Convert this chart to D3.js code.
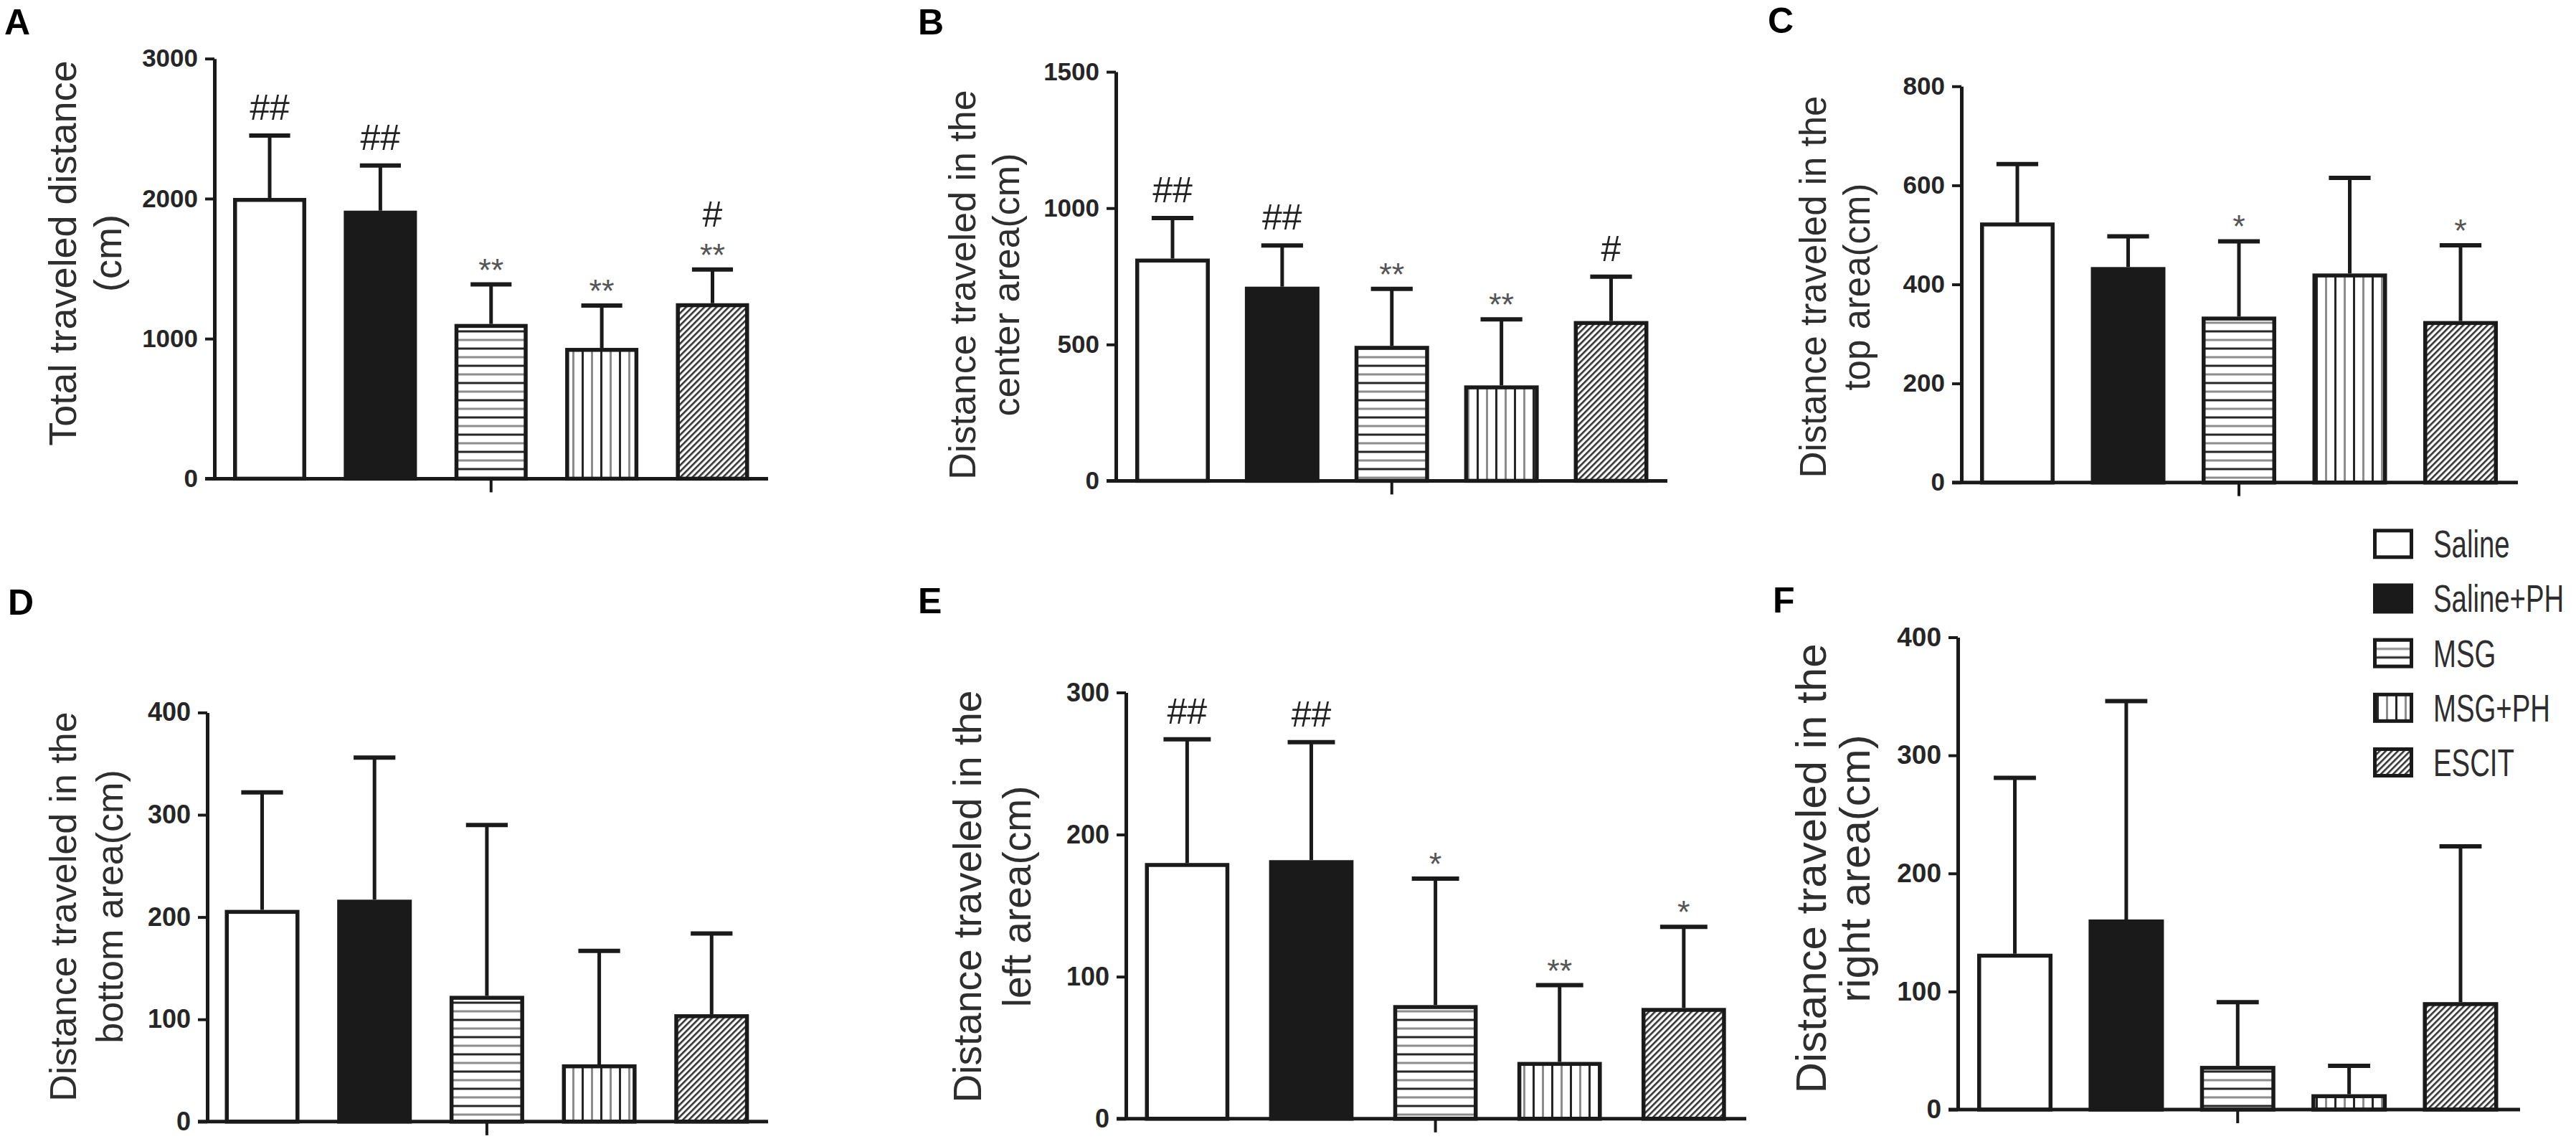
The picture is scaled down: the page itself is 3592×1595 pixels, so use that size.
<!DOCTYPE html>
<html>
<head>
<meta charset="utf-8">
<script src="https://cdn.jsdelivr.net/npm/d3@7"></script>
<style>
  body { margin: 0; background: #fff; }
  svg { display: block; }
  text { font-family: "Liberation Sans", Arial, Helvetica, sans-serif; }
</style>
</head>
<body>
<div id="chart"></div>
<script>
const groups = ['Saline', 'Saline+PH', 'MSG', 'MSG+PH', 'ESCIT'];

// A - total distance
const totalMean = [2005, 1914, 1105, 934, 1253];
const totalErr = [446, 322, 282, 302, 241];
const totalSig = [['##'], ['##'], ['**'], ['**'], ['**', '#']];
const totalTicks = [0, 1000, 2000, 3000];

// B - center area
const centerMean = [815, 712, 495, 350, 586];
const centerErr = [149, 151, 209, 242, 163];
const centerSig = [['##'], ['##'], ['**'], ['**'], ['#']];
const centerTicks = [0, 500, 1000, 1500];

// C - top area
const topMean = [525, 435, 335, 422, 326];
const topErr = [118, 62, 152, 193, 153];
const topSig = [[], [], ['*'], [], ['*']];
const topTicks = [0, 200, 400, 600, 800];

// D - bottom area
const bottomMean = [207, 217, 123, 56, 105];
const bottomErr = [115, 139, 167, 111, 79];
const bottomSig = [[], [], [], [], []];
const bottomTicks = [0, 100, 200, 300, 400];

// E - left area
const leftMean = [180, 182, 80, 40, 78];
const leftErr = [87, 83, 89, 54, 57];
const leftSig = [['##'], ['##'], ['*'], ['**'], ['*']];
const leftTicks = [0, 100, 200, 300];

// F - right area
const rightMean = [132, 161, 37, 13, 91];
const rightErr = [149, 185, 54, 24, 132];
const rightSig = [[], [], [], [], []];
const rightTicks = [0, 100, 200, 300, 400];

const W = 3592, H = 1595;
const INK = '#1a1a1a';

const svg = d3.select('#chart').append('svg')
    .attr('width', W)
    .attr('height', H);

// fill patterns
const defs = svg.append('defs');

const ph = defs.append('pattern').attr('id', 'pat-h')
    .attr('patternUnits', 'userSpaceOnUse').attr('width', 10).attr('height', 24);
ph.append('rect').attr('width', 10).attr('height', 24).attr('fill', '#fff');
ph.append('rect').attr('y', 4.5).attr('width', 10).attr('height', 3).attr('fill', '#262626');
ph.append('rect').attr('y', 16.5).attr('width', 10).attr('height', 3).attr('fill', '#8c8c8c');

const pv = defs.append('pattern').attr('id', 'pat-v')
    .attr('patternUnits', 'userSpaceOnUse').attr('width', 26).attr('height', 10);
pv.append('rect').attr('width', 26).attr('height', 10).attr('fill', '#fff');
pv.append('rect').attr('x', 5).attr('width', 3).attr('height', 10).attr('fill', '#262626');
pv.append('rect').attr('x', 18).attr('width', 3).attr('height', 10).attr('fill', '#8c8c8c');

const pd = defs.append('pattern').attr('id', 'pat-d')
    .attr('patternUnits', 'userSpaceOnUse').attr('width', 6).attr('height', 6)
    .attr('patternTransform', 'rotate(45)');
pd.append('rect').attr('width', 6).attr('height', 6).attr('fill', '#fff');
pd.append('rect').attr('width', 2.6).attr('height', 6).attr('fill', '#333');

const fills = ['#fff', INK, 'url(#pat-h)', 'url(#pat-v)', 'url(#pat-d)'];

const panels = [
    {letter: 'A', lx: 6, ly: 48, axisX: 299, x0: 325, x1: 1044.5, pad: 0.339, end: 1071,
     y0: 667.4, y1: 81.7, labX: [87, 150], labY: 353, labSize: 54, tickSize: 35,
     lines: ['Total traveled distance', '(cm)'],
     mean: totalMean, err: totalErr, sig: totalSig, ticks: totalTicks},
    {letter: 'B', lx: 1280, ly: 48, axisX: 1556, x0: 1583, x1: 2298.5, pad: 0.32, end: 2325,
     y0: 670.4, y1: 100.1, labX: [1342, 1403], labY: 397, labSize: 52, tickSize: 35,
     lines: ['Distance traveled in the', 'center area(cm)'],
     mean: centerMean, err: centerErr, sig: centerSig, ticks: centerTicks},
    {letter: 'C', lx: 2465, ly: 46, axisX: 2735, x0: 2761, x1: 3483, pad: 0.327, end: 3511,
     y0: 672.7, y1: 120.3, labX: [2528, 2589], labY: 400, labSize: 51, tickSize: 35,
     lines: ['Distance traveled in the', 'top area(cm)'],
     mean: topMean, err: topErr, sig: topSig, ticks: topTicks},
    {letter: 'D', lx: 11, ly: 857, axisX: 289, x0: 313.5, x1: 1044.3, pad: 0.336, end: 1071,
     y0: 1563.8, y1: 993.4, labX: [88, 153], labY: 1264, labSize: 52, tickSize: 36,
     lines: ['Distance traveled in the', 'bottom area(cm)'],
     mean: bottomMean, err: bottomErr, sig: bottomSig, ticks: bottomTicks},
    {letter: 'E', lx: 1280, ly: 855, axisX: 1570, x0: 1596.5, x1: 2406.7, pad: 0.32, end: 2435,
     y0: 1559.8, y1: 965.5, labX: [1349, 1418], labY: 1250, labSize: 55, tickSize: 36,
     lines: ['Distance traveled in the', 'left area(cm)'],
     mean: leftMean, err: leftErr, sig: leftSig, ticks: leftTicks},
    {letter: 'F', lx: 2472, ly: 854, axisX: 2730, x0: 2757, x1: 3483.5, pad: 0.324, end: 3514,
     y0: 1547, y1: 888.5, labX: [2525, 2586], labY: 1211, labSize: 60, tickSize: 37,
     lines: ['Distance traveled in the', 'right area(cm)'],
     mean: rightMean, err: rightErr, sig: rightSig, ticks: rightTicks}
];

panels.forEach(drawPanel);
drawLegend();

function drawPanel(p) {
    const g = svg.append('g').attr('class', 'panel-' + p.letter);

    const y = d3.scaleLinear()
        .domain([0, d3.max(p.ticks)])
        .range([p.y0, p.y1]);

    const x = d3.scaleBand()
        .domain(groups)
        .range([p.x0, p.x1])
        .paddingInner(p.pad)
        .paddingOuter(0);

    const bw = x.bandwidth();
    const sw = 5.5;

    // bars
    g.selectAll('rect.bar').data(groups).join('rect')
        .attr('class', 'bar')
        .attr('x', d => x(d) + sw / 2)
        .attr('width', bw - sw)
        .attr('y', (d, i) => y(p.mean[i]) + sw / 2)
        .attr('height', (d, i) => y(0) - y(p.mean[i]) - sw / 2)
        .attr('fill', (d, i) => fills[i])
        .attr('stroke', INK)
        .attr('stroke-width', sw);

    // error bars (upper only)
    const cx = d => x(d) + bw / 2;
    const capW = bw * 0.56;
    g.selectAll('line.err').data(groups).join('line')
        .attr('class', 'err')
        .attr('x1', cx).attr('x2', cx)
        .attr('y1', (d, i) => y(p.mean[i]))
        .attr('y2', (d, i) => y(p.mean[i] + p.err[i]))
        .attr('stroke', INK)
        .attr('stroke-width', 5);
    g.selectAll('line.cap').data(groups).join('line')
        .attr('class', 'cap')
        .attr('x1', d => cx(d) - capW / 2)
        .attr('x2', d => cx(d) + capW / 2)
        .attr('y1', (d, i) => y(p.mean[i] + p.err[i]))
        .attr('y2', (d, i) => y(p.mean[i] + p.err[i]))
        .attr('stroke', INK)
        .attr('stroke-width', 6);

    // significance marks
    groups.forEach((d, i) => {
        let yy = y(p.mean[i] + p.err[i]);
        p.sig[i].forEach((s, j) => {
            const hash = s.includes('#');
            yy = j === 0 ? yy - (hash ? 22 : 5) : yy - 55;
            g.append('text')
                .attr('x', cx(d))
                .attr('y', yy)
                .attr('text-anchor', 'middle')
                .attr('font-size', hash ? 50 : 45)
                .attr('fill', hash ? '#222' : '#555')
                .text(s);
        });
    });

    // y axis
    const yAxis = d3.axisLeft(y)
        .tickValues(p.ticks)
        .tickSize(13)
        .tickSizeOuter(0)
        .tickPadding(10)
        .tickFormat(d3.format('d'));
    const ga = g.append('g')
        .attr('transform', `translate(${p.axisX},0)`)
        .call(yAxis);
    ga.select('.domain').attr('stroke', INK).attr('stroke-width', 5);
    ga.selectAll('.tick line').attr('stroke', INK).attr('stroke-width', 4);
    ga.selectAll('.tick text')
        .attr('font-size', p.tickSize)
        .attr('font-weight', 'bold')
        .attr('fill', '#262626');

    // x axis baseline
    g.append('line')
        .attr('x1', p.axisX - 13).attr('x2', p.end)
        .attr('y1', y(0)).attr('y2', y(0))
        .attr('stroke', INK)
        .attr('stroke-width', 5);

    // single centre tick under the x axis
    const xAxis = d3.axisBottom(x)
        .tickValues([groups[2]])
        .tickSize(19)
        .tickFormat('');
    const gx = g.append('g')
        .attr('transform', `translate(0,${y(0)})`)
        .call(xAxis);
    gx.select('.domain').remove();
    gx.selectAll('.tick line').attr('stroke', INK).attr('stroke-width', 4);

    // y label (two lines)
    p.lines.forEach((t, k) => {
        g.append('text')
            .attr('transform', `translate(${p.labX[k]},${p.labY}) rotate(-90)`)
            .attr('text-anchor', 'middle')
            .attr('dominant-baseline', 'central')
            .attr('font-size', p.labSize)
            .attr('fill', '#2e2e2e')
            .text(t);
    });

    // panel letter
    g.append('text')
        .attr('x', p.lx)
        .attr('y', p.ly)
        .attr('font-size', 50)
        .attr('font-weight', 'bold')
        .attr('fill', '#000')
        .text(p.letter);
}

function drawLegend() {
    const ly = d3.scalePoint()
        .domain(groups)
        .range([758.3, 1063]);

    const lg = svg.append('g').attr('class', 'legend');
    const rows = lg.selectAll('g').data(groups).join('g')
        .attr('transform', d => `translate(3309,${ly(d)})`);

    rows.append('rect')
        .attr('x', 2.5)
        .attr('y', -18.5)
        .attr('width', 51)
        .attr('height', 37)
        .attr('fill', (d, i) => fills[i])
        .attr('stroke', INK)
        .attr('stroke-width', 5);

    rows.append('text')
        .attr('transform', 'translate(84,19) scale(0.71,1)')
        .attr('font-size', 54)
        .attr('fill', '#2e2e2e')
        .text(d => d);
}
</script>
</body>
</html>
